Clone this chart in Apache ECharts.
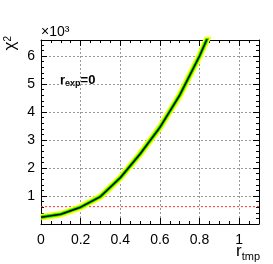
<!DOCTYPE html>
<html><head><meta charset="utf-8">
<script src="https://cdn.jsdelivr.net/npm/echarts@6/dist/echarts.min.js"></script>
<style>html,body{margin:0;padding:0;background:#fff}#c{width:273px;height:264px}</style>
</head><body><div id="c"></div>
<script>
var rValues = [0, 0.1, 0.2, 0.3, 0.4, 0.5, 0.6, 0.7, 0.8, 0.9];
var chi2Values = [240, 350, 600, 980, 1650, 2500, 3450, 4600, 6000, 7600];
var thresholdValue = 620;
var xTickLabels = ['0', '0.2', '0.4', '0.6', '0.8', '1'];
var yTickLabels = ['1', '2', '3', '4', '5', '6'];

var pts = rValues.map(function (r, i) { return [r, chi2Values[i]]; });
var FONT = 'Liberation Sans, Arial, sans-serif';
var chart = echarts.init(document.getElementById('c'), null, {renderer: 'canvas'});

function xLab(v) {
  var idx = Math.round(v / 0.2);
  if (Math.abs(v - idx * 0.2) > 1e-6) return '';
  return xTickLabels[idx] !== undefined ? xTickLabels[idx] : '';
}
function yLab(v) {
  var idx = Math.round(v / 1000) - 1;
  return yTickLabels[idx] !== undefined ? yTickLabels[idx] : '';
}

var axisCommon = {
  type: 'value',
  axisLine: {show: true, onZero: false, lineStyle: {color: '#000', width: 1}},
  axisTick: {show: true, inside: true, length: 6, lineStyle: {color: '#000'}},
  minorTick: {show: true, length: 3, lineStyle: {color: '#000'}},
  splitLine: {show: false}
};

var option = {
  animation: false,
  grid: {left: 41, top: 40, right: 14, bottom: 40, containLabel: false},
  xAxis: [
    Object.assign({}, axisCommon, {
      position: 'bottom', min: 0, max: 1.1, interval: 0.2,
      minorTick: {show: true, splitNumber: 4, length: 3, lineStyle: {color: '#000'}},
      axisLabel: {show: true, color: '#000', fontFamily: FONT, fontSize: 14, margin: 9, formatter: xLab, showMaxLabel: false},
      splitLine: {show: true, lineStyle: {color: '#999', type: [2, 2], width: 1}}
    }),
    Object.assign({}, axisCommon, {
      position: 'top', min: 0, max: 1.1, interval: 0.2,
      minorTick: {show: true, splitNumber: 4, length: 3, lineStyle: {color: '#000'}},
      axisLabel: {show: false}
    })
  ],
  yAxis: [
    Object.assign({}, axisCommon, {
      position: 'left', min: 0, max: 6570, interval: 1000,
      name: '{a|χ}{s|2}', nameLocation: 'end', nameRotate: 90, nameGap: 4,
      nameTextStyle: {align: 'right', verticalAlign: 'bottom', padding: [0, 0, 22, 0],
        rich: {
          a: {fontSize: 17, fontFamily: FONT, color: '#000', lineHeight: 16, verticalAlign: 'bottom'},
          s: {fontSize: 10, fontFamily: FONT, color: '#000', lineHeight: 16, verticalAlign: 'top'}}},
      minorTick: {show: true, splitNumber: 5, length: 3, lineStyle: {color: '#000'}},
      axisLabel: {show: true, color: '#000', fontFamily: FONT, fontSize: 14, margin: 6, formatter: yLab, showMaxLabel: false},
      splitLine: {show: true, lineStyle: {color: '#999', type: [2, 2], width: 1}}
    }),
    Object.assign({}, axisCommon, {
      position: 'right', min: 0, max: 6570, interval: 1000,
      minorTick: {show: true, splitNumber: 5, length: 3, lineStyle: {color: '#000'}},
      axisLabel: {show: false}
    })
  ],
  series: [
    {type: 'line', data: pts, symbol: 'none', clip: true, lineStyle: {color: '#ffff00', width: 6.5}, z: 3},
    {type: 'line', data: pts, symbol: 'none', clip: true, lineStyle: {color: '#00ee00', width: 3.5}, z: 4},
    {type: 'line', data: pts, symbol: 'none', clip: true, lineStyle: {color: '#000', width: 1.5}, z: 5},
    {type: 'line', data: [[0, thresholdValue], [1.1, thresholdValue]], symbol: 'none', clip: true,
     lineStyle: {color: '#ff3030', width: 1, type: [2, 2]}, z: 2}
  ],
  graphic: [
    {type: 'text', left: 41, top: 25, style: {text: '×10³', font: '14px ' + FONT, fill: '#000'}},
    {type: 'text', left: 236, top: 243,
     style: {text: '{a|r}{s|tmp}', rich: {a: {fontSize: 17, fontFamily: FONT, fill: '#000'}, s: {fontSize: 11, fontFamily: FONT, fill: '#000', padding: [10, 0, 0, 0]}}}},
    {type: 'text', left: 60, top: 74,
     style: {text: '{a|r}{s|exp}{a|=0}', rich: {a: {fontSize: 13, fontWeight: 'bold', fontFamily: FONT, fill: '#000'}, s: {fontSize: 9, fontWeight: 'bold', fontFamily: FONT, fill: '#000', padding: [7, 0, 0, 0]}}}}
  ]
};
chart.setOption(option);
</script></body></html>
